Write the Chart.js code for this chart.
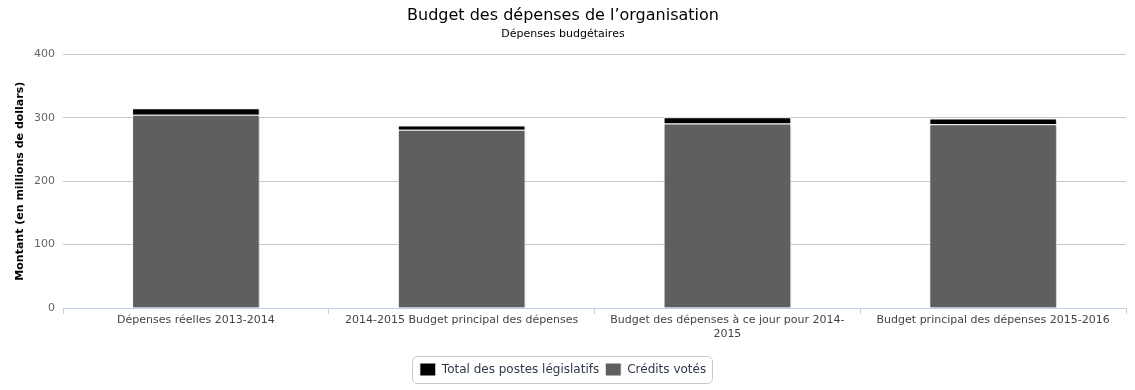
<!DOCTYPE html>
<html lang="fr">
<head>
<meta charset="utf-8">
<title>Budget des dépenses de l’organisation</title>
<script src="https://cdn.jsdelivr.net/npm/chart.js@4/dist/chart.umd.min.js"></script>
<style>
    html, body { margin: 0; padding: 0; background: #fff; }
    #wrap { width: 1135px; height: 390px; position: relative; }
</style>
</head>
<body>
<div id="wrap"><canvas id="chart-canvas"></canvas></div>
<script>
const categories = [
    'Dépenses réelles 2013-2014',
    '2014-2015 Budget principal des dépenses',
    ['Budget des dépenses à ce jour pour 2014-', '2015'],
    'Budget principal des dépenses 2015-2016'
];
const creditsVotes = [305, 281, 291, 290];
const postesLegislatifs = [10, 7, 10, 9];
const yTicks = [0, 100, 200, 300, 400];

const fontFamily = '"DejaVu Sans", Verdana, sans-serif';

// draws the rounded box round the legend, like the original
const legendBox = {
    id: 'legendBox',
    afterDraw(chart) {
        const boxes = chart.legend.legendHitBoxes;
        if (!boxes || !boxes.length) return;
        const left = Math.min(...boxes.map(b => b.left)) - 8;
        const right = Math.max(...boxes.map(b => b.left + b.width)) + 6;
        const top = Math.min(...boxes.map(b => b.top)) - 7;
        const bottom = Math.max(...boxes.map(b => b.top + b.height)) + 7;
        const ctx = chart.ctx;
        ctx.save();
        ctx.strokeStyle = '#c8c8c8';
        ctx.lineWidth = 1;
        ctx.beginPath();
        ctx.roundRect(Math.round(left) + 0.5, Math.round(top) + 0.5, Math.round(right - left), Math.round(bottom - top), 5);
        ctx.stroke();
        ctx.restore();
    }
};

// soft shadow on bars
const barShadow = {
    id: 'barShadow',
    beforeDatasetsDraw(chart) {
        const ctx = chart.ctx;
        ctx.save();
        ctx.shadowColor = 'rgba(0,0,0,0.25)';
        ctx.shadowOffsetX = 1;
        ctx.shadowOffsetY = 1;
        ctx.shadowBlur = 2;
    },
    afterDatasetsDraw(chart) {
        chart.ctx.restore();
    }
};

new Chart(document.getElementById('chart-canvas'), {
    type: 'bar',
    data: {
        labels: categories,
        datasets: [
            {
                label: 'Crédits votés',
                data: creditsVotes,
                backgroundColor: '#5f5f5f',
                borderColor: '#ffffff',
                borderWidth: 1,
                barPercentage: 0.96,
                categoryPercentage: 0.5
            },
            {
                label: 'Total des postes législatifs',
                data: postesLegislatifs,
                backgroundColor: '#000000',
                borderColor: '#ffffff',
                borderWidth: 1,
                barPercentage: 0.96,
                categoryPercentage: 0.5
            }
        ]
    },
    options: {
        responsive: true,
        maintainAspectRatio: false,
        animation: false,
        layout: { padding: { left: 0, right: 9, top: 4, bottom: 4 } },
        plugins: {
            title: {
                display: true,
                text: 'Budget des dépenses de l’organisation',
                color: '#000',
                font: { family: fontFamily, size: 16, weight: 'normal' },
                padding: { top: 2, bottom: 0 }
            },
            subtitle: {
                display: true,
                text: 'Dépenses budgétaires',
                color: '#000',
                font: { family: fontFamily, size: 11, weight: 'normal' },
                padding: { top: 2, bottom: 14 }
            },
            legend: {
                position: 'bottom',
                labels: {
                    color: '#2f3a4a',
                    font: { family: fontFamily, size: 12 },
                    boxWidth: 16,
                    boxHeight: 13,
                    padding: 6,
                    sort: (a, b) => b.datasetIndex - a.datasetIndex
                }
            },
            tooltip: { enabled: false }
        },
        scales: {
            x: {
                stacked: true,
                grid: {
                    offset: true,
                    drawOnChartArea: false,
                    drawTicks: true,
                    tickLength: 6,
                    color: '#c0d0e0'
                },
                border: { color: '#c0d0e0' },
                ticks: {
                    color: '#444',
                    font: { family: fontFamily, size: 11 },
                    maxRotation: 0,
                    autoSkip: false,
                    padding: 0
                },
                afterFit: s => { s.height = 49; }
            },
            y: {
                stacked: true,
                min: 0,
                max: 400,
                afterBuildTicks: s => { s.ticks = yTicks.map(v => ({ value: v })); },
                grid: { color: '#c8c8c8', drawTicks: false },
                border: { display: false },
                ticks: {
                    color: '#666',
                    font: { family: fontFamily, size: 11 },
                    padding: 8
                },
                title: {
                    display: true,
                    text: 'Montant (en millions de dollars)',
                    color: '#000',
                    font: { family: fontFamily, size: 11, weight: 'bold' },
                    padding: { top: 14, bottom: 0 }
                },
                afterFit: s => { s.width = 63; }
            }
        }
    },
    plugins: [barShadow, legendBox]
});
</script>
</body>
</html>
